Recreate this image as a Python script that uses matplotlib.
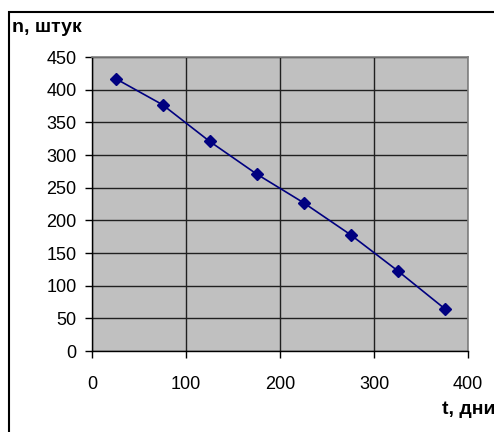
import matplotlib
matplotlib.use("Agg")
import matplotlib.pyplot as plt
from matplotlib.patches import Rectangle

# ======================
# data
# ======================
t_days = [25, 75, 125, 175, 225, 275, 325, 375]
n_count = [417, 377, 321, 271, 227, 178, 123, 65]
x_ticks = [0, 100, 200, 300, 400]
y_ticks = [0, 50, 100, 150, 200, 250, 300, 350, 400, 450]

plt.rcParams["font.family"] = ["Liberation Sans", "DejaVu Sans"]

fig = plt.figure(figsize=(4.94, 4.32), dpi=100)
fig.patch.set_facecolor("white")

# outer chart frame (Excel style), runs off the right and bottom edges
fig.patches.append(Rectangle((9 / 494, -0.05), 1.1, 1.05 - 11.5 / 432,
                             transform=fig.transFigure, fill=False,
                             edgecolor="black", linewidth=1.5))

ax = fig.add_axes([92 / 494, 1 - 351 / 432, 376 / 494, 294 / 432])
ax.set_facecolor("#C0C0C0")

ax.plot(t_days, n_count, color="#000080", linewidth=1.2,
        marker="D", markersize=6.5, markerfacecolor="#000080",
        markeredgecolor="#000080", zorder=3)

ax.set_xlim(0, 400)
ax.set_ylim(0, 450)
ax.set_xticks(x_ticks)
ax.set_yticks(y_ticks)
ax.tick_params(labelsize=13, direction="out", length=5, width=1, color="black")
ax.tick_params(axis="x", pad=13)
ax.tick_params(axis="y", pad=6)

ax.grid(True, color="#202020", linewidth=1.0)
ax.set_axisbelow(True)

for side in ["left", "bottom"]:
    ax.spines[side].set_color("black")
    ax.spines[side].set_linewidth(1.0)
for side in ["top", "right"]:
    ax.spines[side].set_color("#808080")
    ax.spines[side].set_linewidth(1.2)

fig.text(12 / 494, 1 - 28 / 432, "n, штук", fontsize=14, fontweight="bold",
         ha="left", va="center")
fig.text(442 / 494, 1 - 409 / 432, "t, дни", fontsize=14, fontweight="bold",
         ha="left", va="center")

fig.savefig("out.png", dpi=100)
plt.close(fig)
